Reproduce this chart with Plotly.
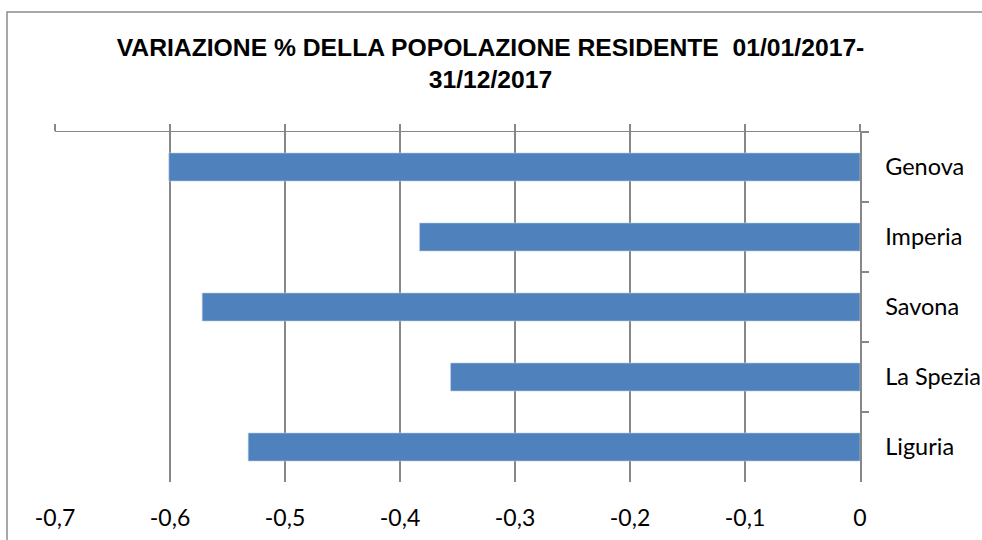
import plotly.graph_objects as go

categories = ["Genova", "Imperia", "Savona", "La Spezia", "Liguria"]
values = [-0.601, -0.383, -0.572, -0.356, -0.532]
tick_vals = [-0.7, -0.6, -0.5, -0.4, -0.3, -0.2, -0.1, 0]
tick_text = ["-0,7", "-0,6", "-0,5", "-0,4", "-0,3", "-0,2", "-0,1", "0"]
title_text = "VARIAZIONE % DELLA POPOLAZIONE RESIDENTE  01/01/2017-<br>31/12/2017"

GRID = "#878787"
BAR = "#4f81bd"

# plot area 805 x 350 px
W, H = 982, 540
ML, MT, PW, PH = 55, 132, 805, 350
MB = H - MT - PH

fig = go.Figure()
fig.add_trace(go.Bar(
    x=values, y=categories, orientation="h",
    marker=dict(color=BAR, line=dict(color="#b9cde5", width=0.6)),
    width=0.4, showlegend=False, hoverinfo="skip",
))
# invisible companion trace so the top axis (ticks + line) is drawn
fig.add_trace(go.Scatter(
    x=values, y=categories, xaxis="x2", mode="markers",
    marker=dict(opacity=0), showlegend=False, hoverinfo="skip",
))

fig.update_layout(
    width=W, height=H,
    margin=dict(l=ML, r=W - ML - PW, t=MT, b=MB, autoexpand=False),
    paper_bgcolor="white", plot_bgcolor="white",
    font=dict(family="Lato, Open Sans, sans-serif", color="#000000"),
    title=dict(
        text=title_text, x=0.4995, xref="container", xanchor="center",
        y=0.8967, yref="container", yanchor="top",
        font=dict(family="Liberation Sans Narrow, Liberation Sans, sans-serif",
                  size=24.7, color="#000000", weight="bold"),
        automargin=False,
    ),
    xaxis=dict(
        range=[-0.7, 0], tickvals=tick_vals, ticktext=tick_text,
        showgrid=True, gridcolor=GRID, gridwidth=1.5,
        zeroline=False, showline=False, ticks="",
        tickfont=dict(size=23), ticklabelstandoff=20,
        automargin=False, fixedrange=True,
    ),
    xaxis2=dict(
        range=[-0.7, 0], overlaying="x", side="top", tickvals=tick_vals,
        showticklabels=False, showgrid=False, zeroline=False,
        showline=True, linecolor=GRID, linewidth=1.5,
        ticks="outside", ticklen=7, tickcolor=GRID, tickwidth=1.5,
        automargin=False, fixedrange=True,
    ),
    yaxis=dict(
        categoryorder="array", categoryarray=categories, autorange="reversed",
        side="right", showgrid=False, zeroline=False,
        showline=True, linecolor=GRID, linewidth=1.5,
        ticks="outside", ticklen=7, tickcolor=GRID, tickwidth=1.5,
        tickson="boundaries", tickfont=dict(size=23.5), ticklabelstandoff=19,
        automargin=False, fixedrange=True,
    ),
    shapes=[dict(
        type="rect", xref="paper", yref="paper",
        x0=(7 - ML) / PW, x1=1.3, y0=-0.4, y1=(H - MB - 12) / PH,
        line=dict(color="#8c8c8c", width=1.5), fillcolor="rgba(0,0,0,0)",
        layer="below",
    )],
)

fig.write_html(
    "out.html",
    config={"displayModeBar": False, "staticPlot": True},
    post_script="document.body.style.margin='0';document.body.style.overflow='hidden';",
)
